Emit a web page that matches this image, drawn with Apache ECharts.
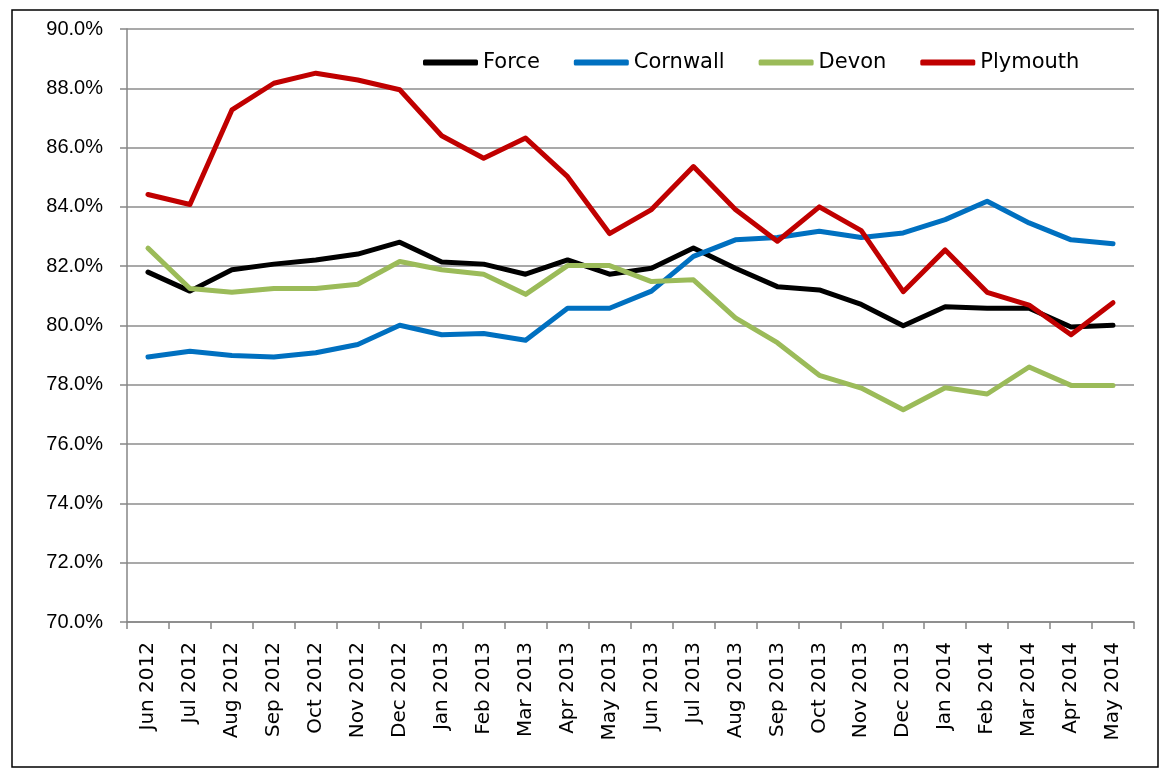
<!DOCTYPE html>
<html>
<head>
<meta charset="utf-8">
<script src="https://cdn.jsdelivr.net/npm/echarts@6/dist/echarts.min.js"></script>
<style>
  html, body { margin: 0; padding: 0; background: #fff; }
  #chart { width: 1163px; height: 771px; }
</style>
</head>
<body>
<div id="chart"></div>
<script>
var months = ['Jun 2012', 'Jul 2012', 'Aug 2012', 'Sep 2012', 'Oct 2012', 'Nov 2012', 'Dec 2012',
    'Jan 2013', 'Feb 2013', 'Mar 2013', 'Apr 2013', 'May 2013', 'Jun 2013', 'Jul 2013', 'Aug 2013',
    'Sep 2013', 'Oct 2013', 'Nov 2013', 'Dec 2013', 'Jan 2014', 'Feb 2014', 'Mar 2014', 'Apr 2014', 'May 2014'];

var force = [81.80, 81.16, 81.88, 82.07, 82.21, 82.41, 82.81, 82.14, 82.07, 81.73, 82.21, 81.73,
    81.93, 82.61, 81.93, 81.31, 81.20, 80.71, 79.99, 80.63, 80.58, 80.58, 79.95, 80.01];
var cornwall = [78.94, 79.13, 78.99, 78.94, 79.08, 79.36, 80.01, 79.69, 79.73, 79.50, 80.58, 80.58,
    81.16, 82.33, 82.89, 82.97, 83.18, 82.97, 83.12, 83.57, 84.19, 83.46, 82.89, 82.76];
var devon = [82.61, 81.25, 81.12, 81.25, 81.25, 81.39, 82.16, 81.88, 81.73, 81.05, 82.02, 82.02,
    81.48, 81.54, 80.26, 79.42, 78.32, 77.89, 77.16, 77.90, 77.69, 78.60, 77.98, 77.98];
var plymouth = [84.42, 84.08, 87.27, 88.17, 88.51, 88.28, 87.95, 86.40, 85.64, 86.32, 85.02, 83.10,
    83.91, 85.36, 83.91, 82.84, 84.00, 83.20, 81.14, 82.55, 81.12, 80.69, 79.69, 80.77];

var font = '"DejaVu Sans", sans-serif';
var yFont = '"Liberation Sans", Arial, sans-serif';

function line(name, data, color) {
    return {
        name: name,
        type: 'line',
        data: data,
        symbol: 'none',
        lineStyle: { color: color, width: 5, cap: 'round', join: 'round' },
        itemStyle: { color: color }
    };
}

var mychart = echarts.init(document.getElementById('chart'));
mychart.setOption({
    animation: false,
    backgroundColor: '#fff',
    graphic: [{
        type: 'rect',
        shape: { x: 12, y: 10, width: 1146, height: 757 },
        style: { fill: 'none', stroke: '#000', lineWidth: 1.5 },
        z: -1
    }],
    legend: {
        left: 418,
        top: 47,
        icon: 'roundRect',
        itemWidth: 55,
        itemHeight: 6,
        itemGap: 34,
        textStyle: { fontFamily: font, fontSize: 21, color: '#000' },
        data: ['Force', 'Cornwall', 'Devon', 'Plymouth']
    },
    grid: { left: 127, right: 29, top: 29, bottom: 149, containLabel: false },
    xAxis: {
        type: 'category',
        data: months,
        boundaryGap: true,
        axisLine: { lineStyle: { color: '#868686', width: 1.5 } },
        axisTick: { show: true, length: 7, lineStyle: { color: '#868686', width: 1.5 } },
        axisLabel: { rotate: 90, interval: 0, fontFamily: font, fontSize: 20, color: '#000', margin: 20 }
    },
    yAxis: {
        type: 'value',
        min: 70,
        max: 90,
        interval: 2,
        axisLine: { show: true, lineStyle: { color: '#868686', width: 1.5 } },
        axisTick: { show: true, length: 7, lineStyle: { color: '#868686', width: 1.5 } },
        axisLabel: {
            fontFamily: yFont, fontSize: 20, color: '#000', margin: 24,
            formatter: function (v) { return v.toFixed(1) + '%'; }
        },
        splitLine: { lineStyle: { color: '#8c8c8c', width: 1.5 } }
    },
    series: [
        line('Force', force, '#000000'),
        line('Cornwall', cornwall, '#0070C0'),
        line('Devon', devon, '#9BBB59'),
        line('Plymouth', plymouth, '#C00000')
    ]
});
</script>
</body>
</html>
